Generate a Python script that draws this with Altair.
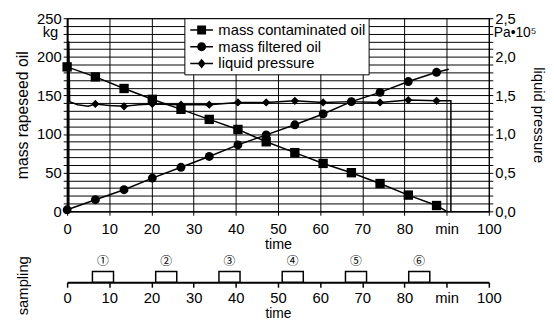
import altair as alt
import pandas as pd

# ---------------- data ----------------
series_names = ["mass contaminated oil", "mass filtered oil", "liquid pressure"]

sample_times = [0, 6.7, 13.5, 20.2, 27, 33.7, 40.5, 47.2, 54, 60.7, 67.4, 74.2, 80.9, 87.6]
contaminated_kg = [187, 174, 159, 145, 132, 119, 106, 90, 76, 62, 50, 36, 21, 7.5]
contaminated_end_t = 90
contaminated_end_kg = 0
filtered_kg = [2, 15, 28, 43, 57, 71, 86, 99, 112, 126, 142, 154, 168, 180]
filtered_end_t = 90.5
filtered_end_kg = 184

pressure_marker_times = sample_times[1:]
pressure_marker_vals = [1.39, 1.36, 1.39, 1.38, 1.38, 1.41, 1.41, 1.43, 1.41, 1.42, 1.41, 1.44, 1.43]
pressure_trace_t = [0.4, 0.4, 0.6, 2.5, 5, 6.7, 10, 13.5, 17, 20.2, 27, 33.7, 40.5, 47.2,
                    54, 60.7, 67.4, 74.2, 80.9, 87.6, 91, 91]
pressure_trace_p = [0, 2.2, 1.42, 1.38, 1.36, 1.39, 1.37, 1.36, 1.38, 1.39, 1.38, 1.38, 1.41,
                    1.41, 1.43, 1.41, 1.42, 1.41, 1.44, 1.43, 1.43, 0]

sampling_start = [6, 21, 36, 51, 66, 81]
sampling_end = [11, 26, 41, 56, 71, 86]
sampling_labels = ["①", "②", "③", "④", "⑤", "⑥"]

# ---------------- tables ----------------
df_c_line = pd.DataFrame({"t": sample_times + [contaminated_end_t],
                          "v": contaminated_kg + [contaminated_end_kg]})
df_c_line["o"] = range(len(df_c_line))
df_f_line = pd.DataFrame({"t": sample_times + [filtered_end_t],
                          "v": filtered_kg + [filtered_end_kg]})
df_f_line["o"] = range(len(df_f_line))
df_c_pts = pd.DataFrame({"t": sample_times, "v": contaminated_kg})
df_f_pts = pd.DataFrame({"t": sample_times, "v": filtered_kg})
df_p_line = pd.DataFrame({"t": pressure_trace_t, "p": pressure_trace_p})
df_p_line["o"] = range(len(df_p_line))
df_p_pts = pd.DataFrame({"t": pressure_marker_times, "p": pressure_marker_vals})
df_legend = pd.DataFrame({"t": [0.0], "v": [0.0], "series": ["none"]})
df_kg_txt = pd.DataFrame({"t": [0], "v": [232], "txt": ["kg"]})
df_pa_txt = pd.DataFrame({"t": [100], "v": [231], "txt": ["Pa•10⁵"]})

df_s = pd.DataFrame({"start": sampling_start, "end": sampling_end, "label": sampling_labels})
df_s["mid"] = (df_s["start"] + df_s["end"]) / 2
df_s["y0"] = 0
df_s["y1"] = 11
df_s["yt"] = 22

FONT = "Liberation Sans"
x_label_expr = "datum.value == 90 ? 'min' : datum.value"

x_main = alt.X("t:Q", scale=alt.Scale(domain=[0, 100], nice=False),
               axis=alt.Axis(tickCount=10, labelExpr=x_label_expr, title="time",
                             grid=True, gridColor="black", gridOpacity=1, gridWidth=1,
                             tickSize=4, labelPadding=7, labelFontSize=15,
                             titleFontSize=14.5, titlePadding=1, labelFlush=False,
                             labelOverlap=False))

y_kg = alt.Y("v:Q", scale=alt.Scale(domain=[0, 250], nice=False),
             axis=alt.Axis(tickCount=25,
                           labelExpr="datum.value % 50 == 0 ? datum.value : ''",
                           title="mass rapeseed oil", grid=True, gridColor="black",
                           gridOpacity=1, gridWidth=1, domainWidth=2, tickSize=4,
                           labelFontSize=15, labelPadding=2, titleFontSize=16,
                           titleX=-45, titleBaseline="middle", labelOverlap=False,
                           labelFlush=False))

y_p = alt.Y("p:Q", scale=alt.Scale(domain=[0, 2.5], nice=False),
            axis=alt.Axis(orient="right", tickCount=25,
                          labelExpr="abs(datum.value*2 - round(datum.value*2)) < 0.001 ? replace(format(datum.value, '.1f'), '.', ',') : ''",
                          title="liquid pressure", grid=False, tickSize=4,
                          labelFontSize=15, labelPadding=2, titleFontSize=15,
                          titleX=50, titleBaseline="middle", titleAngle=90,
                          labelOverlap=False, labelFlush=False))

legend_paths = [
    "M-1.28,-0.08H1.28V0.08H-1.28Z M-0.5,-0.5H0.5V0.5H-0.5Z",
    "M-1.28,-0.08H1.28V0.08H-1.28Z M0.5,0A0.5,0.5 0 1,1 -0.5,0A0.5,0.5 0 1,1 0.5,0Z",
    "M-1.28,-0.08H1.28V0.08H-1.28Z M0,-0.55L0.45,0L0,0.55L-0.45,0Z",
]

line_c = alt.Chart(df_c_line).mark_line(color="black", strokeWidth=1.5).encode(
    x=x_main, y=y_kg, order="o:Q")
line_f = alt.Chart(df_f_line).mark_line(color="black", strokeWidth=1.5).encode(
    x=x_main, y=y_kg, order="o:Q")
pts_c = alt.Chart(df_c_pts).mark_point(shape="square", filled=True, size=90,
                                       color="black", opacity=1).encode(x=x_main, y=y_kg)
pts_f = alt.Chart(df_f_pts).mark_point(shape="circle", filled=True, size=81,
                                       color="black", opacity=1).encode(x=x_main, y=y_kg)
legend_layer = alt.Chart(df_legend).mark_point(filled=True, color="black", opacity=1).encode(
    x=x_main, y=y_kg,
    shape=alt.Shape("series:N",
                    scale=alt.Scale(domain=series_names, range=legend_paths),
                    legend=alt.Legend(orient="none", legendX=119, legendY=0, title=None,
                                      padding=3, strokeColor="black", fillColor="white",
                                      labelFontSize=15, symbolSize=324, symbolOffset=5.5,
                                      labelOffset=8, rowPadding=0, symbolStrokeWidth=0,
                                      symbolFillColor="black", labelColor="black",
                                      labelFont=FONT))
).transform_filter("datum.series != 'none'")
kg_txt = alt.Chart(df_kg_txt).mark_text(align="right", dx=-9, fontSize=15, color="black",
                                        baseline="middle").encode(x=x_main, y=y_kg, text="txt:N")
pa_txt = alt.Chart(df_pa_txt).mark_text(align="left", dx=5, fontSize=14, color="black",
                                        baseline="middle").encode(x=x_main, y=y_kg, text="txt:N")

kg_layer = alt.layer(line_c, line_f, pts_c, pts_f, legend_layer, kg_txt, pa_txt)

line_p = alt.Chart(df_p_line).mark_line(color="black", strokeWidth=1.5).encode(
    x=x_main, y=y_p, order="o:Q")
pts_p = alt.Chart(df_p_pts).mark_point(shape="diamond", filled=True, size=70,
                                       color="black", opacity=1).encode(x=x_main, y=y_p)
p_layer = alt.layer(line_p, pts_p)

main = alt.layer(kg_layer, p_layer).resolve_scale(y="independent").properties(
    width=428, height=196, view=alt.ViewBackground(stroke="black", strokeWidth=1))

# ---------------- sampling panel ----------------
x_b = alt.X("start:Q", scale=alt.Scale(domain=[0, 100], nice=False),
            axis=alt.Axis(tickCount=10, labelExpr=x_label_expr, title="time", grid=False,
                          domainWidth=2, tickSize=5, tickWidth=1.5, labelPadding=4,
                          labelFontSize=15, titleFontSize=14, titlePadding=1,
                          labelFlush=False, labelOverlap=False))
y_b = alt.Y("y0:Q", scale=alt.Scale(domain=[0, 28], nice=False),
            axis=alt.Axis(title="sampling", labels=False, ticks=False, domain=False,
                          grid=False, titleX=-45, titleY=31, titleFontSize=15,
                          titleBaseline="middle"))
boxes = alt.Chart(df_s).mark_rect(fill="white", stroke="black", strokeWidth=1.5).encode(
    x=x_b, x2="end:Q", y=y_b, y2="y1:Q")
nums = alt.Chart(df_s).mark_text(font="Noto Sans CJK JP", fontSize=12, color="black",
                                 baseline="middle").encode(
    x=alt.X("mid:Q"), y=alt.Y("yt:Q"), text="label:N")
bottom = alt.layer(boxes, nums).properties(width=428, height=28)

chart = alt.vconcat(main, bottom, spacing=2).configure(
    font=FONT, padding={"left": 6, "top": 0, "right": 0, "bottom": 0}
).configure_view(stroke="transparent").configure_axis(
    domainColor="black", tickColor="black", labelColor="black", titleColor="black",
    titleFontWeight="normal", labelFont=FONT, titleFont=FONT
)

chart.save("out.html", embed_options={"renderer": "svg", "actions": False})
